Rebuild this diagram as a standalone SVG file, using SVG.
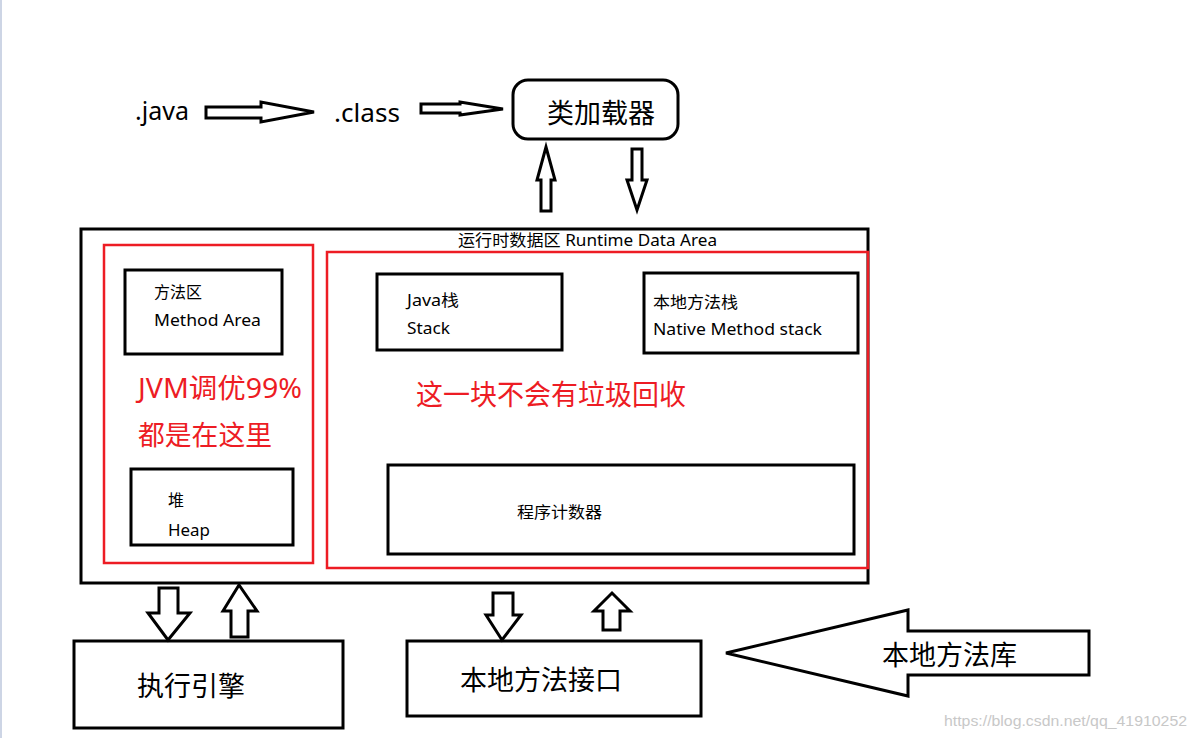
<svg xmlns="http://www.w3.org/2000/svg" width="1196" height="738" viewBox="0 0 1196 738">
<style>
.bx{fill:none;stroke:#000;stroke-width:3}
.rb{fill:none;stroke:#ed1c24;stroke-width:2.5}
.ar{fill:#fff;stroke:#000;stroke-width:3;stroke-linejoin:miter}
.t{font-family:"Noto Sans","Noto Sans CJK SC",sans-serif;fill:#000}
.r{font-family:"Noto Sans","Noto Sans CJK SC",sans-serif;fill:#ed1c24;font-weight:400}
</style>
<rect x="0" y="0" width="1196" height="738" fill="#fff"/>
<rect x="0" y="0" width="2" height="738" fill="#cdd5e5"/>

<g id="java">
<text class="t" x="135" y="120" font-size="25">.java</text>
</g>
<g id="class">
<text class="t" x="334" y="122" font-size="25" textLength="66" lengthAdjust="spacingAndGlyphs">.class</text>
</g>
<g id="classloader">
<rect class="bx" x="513" y="80" width="165" height="59" rx="15"/>
<text class="t" x="547" y="123" font-size="27">类加载器</text>
</g>

<g id="runtime">
<rect class="bx" x="81" y="229" width="787" height="354"/>
<text class="t" x="458" y="246" font-size="16" textLength="259" lengthAdjust="spacingAndGlyphs">运行时数据区 Runtime Data Area</text>
</g>
<g id="tuning-zone">
<rect class="rb" x="104" y="245" width="209" height="318"/>
<text class="r" x="138" y="398" font-size="27" textLength="164" lengthAdjust="spacingAndGlyphs">JVM调优99%</text>
<text class="r" x="138" y="445" font-size="27" textLength="134" lengthAdjust="spacingAndGlyphs">都是在这里</text>
</g>
<g id="no-gc-zone">
<rect class="rb" x="327" y="252" width="541" height="316"/>
<text class="r" x="416" y="405" font-size="28" textLength="270" lengthAdjust="spacingAndGlyphs">这一块不会有垃圾回收</text>
</g>
<g id="method-area">
<rect class="bx" x="125" y="270" width="157" height="84"/>
<text class="t" x="154" y="298" font-size="16">方法区</text>
<text class="t" x="154" y="326" font-size="16" textLength="107" lengthAdjust="spacingAndGlyphs">Method Area</text>
</g>
<g id="java-stack">
<rect class="bx" x="377" y="274" width="185" height="76"/>
<text class="t" x="407" y="306" font-size="16" textLength="52" lengthAdjust="spacingAndGlyphs">Java栈</text>
<text class="t" x="407" y="334" font-size="16" textLength="43" lengthAdjust="spacingAndGlyphs">Stack</text>
</g>
<g id="native-stack">
<rect class="bx" x="644" y="273" width="214" height="80"/>
<text class="t" x="653" y="308" font-size="16" textLength="85" lengthAdjust="spacingAndGlyphs">本地方法栈</text>
<text class="t" x="653" y="335" font-size="16" textLength="169" lengthAdjust="spacingAndGlyphs">Native Method stack</text>
</g>
<g id="heap">
<rect class="bx" x="131" y="469" width="162" height="76"/>
<text class="t" x="168" y="506" font-size="16">堆</text>
<text class="t" x="168" y="536" font-size="16" textLength="42" lengthAdjust="spacingAndGlyphs">Heap</text>
</g>
<g id="pc">
<rect class="bx" x="388" y="465" width="466" height="89"/>
<text class="t" x="517" y="518" font-size="16" textLength="85" lengthAdjust="spacingAndGlyphs">程序计数器</text>
</g>

<g id="engine">
<rect class="bx" x="74" y="641" width="269" height="87"/>
<text class="t" x="137" y="696" font-size="27">执行引擎</text>
</g>
<g id="native-interface">
<rect class="bx" x="407" y="641" width="294" height="75"/>
<text class="t" x="460" y="690" font-size="27">本地方法接口</text>
</g>
<g id="native-lib">
<polygon class="ar" points="726,653 908,610 908,631 1089,631 1089,675 908,675 908,696"/>
<text class="t" x="882" y="665" font-size="27">本地方法库</text>
</g>

<g id="connectors">
<polygon class="ar" points="206,107 261,107 261,102 314,112 261,122 261,118 206,118"/>
<polygon class="ar" points="421,104 460,104 460,102 503,109 460,115 460,113 421,113"/>
<polygon class="ar" points="541,211 541,180 537,180 546,147 555,180 551,180 551,211"/>
<polygon class="ar" points="632,149 642,149 642,180 647,180 637,210 627,180 632,180"/>
<polygon class="ar" points="159,588 178,588 178,613 190,613 168,640 148,613 159,613"/>
<polygon class="ar" points="231,637 231,611 223,611 239,585 257,611 248,611 248,637"/>
<polygon class="ar" points="493,593 513,593 513,615 521,615 502,640 486,615 493,615"/>
<polygon class="ar" points="603,630 603,611 594,611 612,593 630,611 620,611 620,630"/>
</g>

<text x="944" y="726" font-size="14" fill="#c8c8c8" font-family="'Liberation Sans',sans-serif" textLength="243" lengthAdjust="spacingAndGlyphs">https://blog.csdn.net/qq_41910252</text>
</svg>
